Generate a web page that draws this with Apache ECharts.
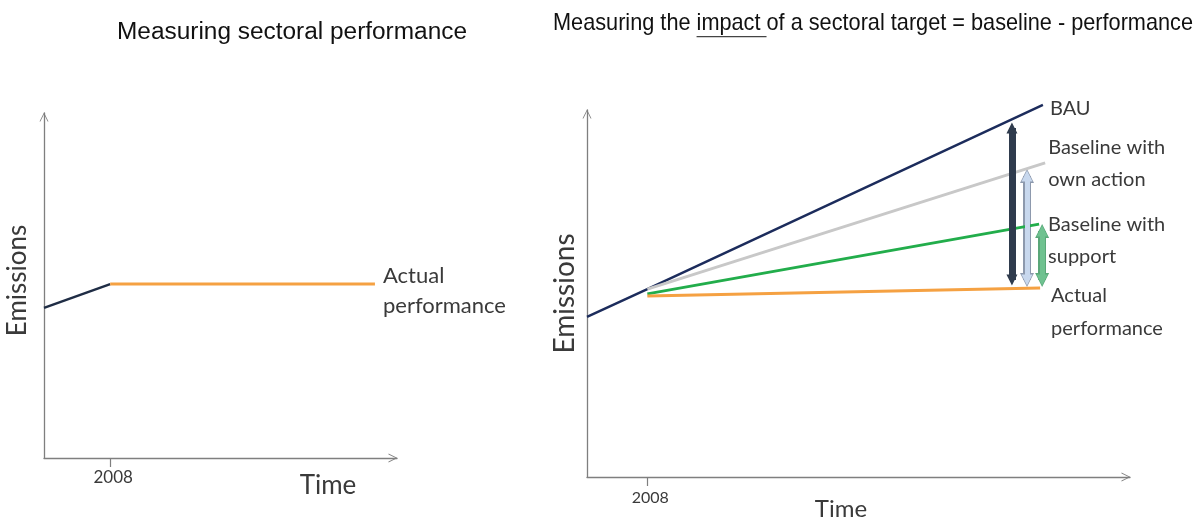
<!DOCTYPE html>
<html>
<head>
<meta charset="utf-8">
<title>Measuring sectoral performance</title>
<script src="https://cdn.jsdelivr.net/npm/echarts@6.0.0/dist/echarts.min.js"></script>
<style>
  html, body { margin:0; padding:0; background:#fff; }
  #main { width:1198px; height:518px; }
</style>
</head>
<body>
<div id="main"></div>
<script type="text/javascript">
// values (x = year, y = emissions index 0..10)
var tickYear = 2008;
var tickLabels = ['2008'];

// left: measuring sectoral performance
var leftPast   = [[2005, 4.35], [2008, 5.04]];
var leftActual = [[2008, 5.04], [2020, 5.04]];

// right: impact of a sectoral target
var bau         = [[2005, 4.36], [2008, 5.12], [2027.67, 10.14]];
var ownAction   = [[2008, 5.12], [2027.78, 8.56]];
var withSupport = [[2008, 4.99], [2027.48, 6.89]];
var actual      = [[2008, 4.93], [2027.53, 5.15]];

// impact arrows (top, bottom)
var arrowBau     = [[2026.13, 9.51], [2026.13, 5.37]];
var arrowOwn     = [[2026.88, 8.20], [2026.88, 5.37]];
var arrowSupport = [[2027.63, 6.70], [2027.63, 5.37]];

var chevron = 'path://M0,10 L5,0 L10,10 L9,10 L5,2 L1,10 Z';
var axisGray = '#7f7f7f';
var textCol = '#3a3a3a';

function xAxisOf(gi, max, fs, margin) {
  return {
    type: 'value', gridIndex: gi, min: 2005, max: max,
    axisLine: { lineStyle: { color: axisGray, width: 1.3 }, symbol: ['none', chevron], symbolSize: [10, 9], symbolOffset: [0, -4] },
    axisTick: { show: true, customValues: [tickYear], length: 9, lineStyle: { color: axisGray, width: 1.2 } },
    axisLabel: { customValues: [tickYear], formatter: function () { return tickLabels[0]; },
      fontFamily: 'Lato', fontSize: fs, color: textCol, margin: margin, padding: [0, 0, 0, 6] },
    splitLine: { show: false }
  };
}
function yAxisOf(gi, gap, fs, shift) {
  return {
    type: 'value', gridIndex: gi, min: 0, max: 10,
    name: 'Emissions', nameLocation: 'middle', nameGap: gap, nameRotate: 90,
    nameTextStyle: { fontFamily: 'Lato', fontSize: fs, color: textCol, padding: [0, 0, 0, shift] },
    axisLine: { show: true, lineStyle: { color: axisGray, width: 1.3 }, symbol: ['none', chevron], symbolSize: [10, 9], symbolOffset: [0, -4] },
    axisTick: { show: false }, axisLabel: { show: false }, splitLine: { show: false }
  };
}
// end label; dy pushes the text block down via a spacer line, dx moves it right
function endLab(text, dx, dy, fs, lh) {
  var parts = text.split('\n').map(function (l) { return '{t|' + l + '}'; });
  return { show: true, distance: 0, padding: [0, 0, 0, dx],
    formatter: (dy > 0 ? '{sp| }\n' : '') + parts.join('\n'),
    rich: {
      sp: { fontSize: 1, height: 2 * dy, lineHeight: 2 * dy },
      t: { fontFamily: 'Lato', fontSize: fs, lineHeight: lh, color: textCol }
    } };
}
function lineOf(gi, data, color, width, label) {
  return {
    type: 'line', xAxisIndex: gi, yAxisIndex: gi, data: data, symbol: 'none',
    lineStyle: { color: color, width: width }, itemStyle: { color: color },
    clip: false, silent: true, animation: false, endLabel: label
  };
}

var measure = document.createElement('canvas').getContext('2d');
var titleL = 'Measuring sectoral performance';
var titleR = 'Measuring the impact of a sectoral target = baseline - performance';
measure.font = '23px "Liberation Sans"';
var sL = 350 / measure.measureText(titleL).width;
measure.font = '24px "Liberation Sans"';
var wR = measure.measureText(titleR).width;
var sR = 640 / wR;
var uPre = measure.measureText('Measuring the ').width * sR;
var uLen = measure.measureText('impact ').width * sR;

var myChart = echarts.init(document.getElementById('main'));
var option = {
  backgroundColor: '#fff',
  animation: false,
  grid: [
    { left: 44, top: 113, width: 353, height: 345 },
    { left: 587, top: 110, width: 543, height: 367 }
  ],
  xAxis: [xAxisOf(0, 2021, 17, 11), xAxisOf(1, 2032, 16, 13)],
  yAxis: [yAxisOf(0, 13, 26, 10), yAxisOf(1, 8, 28, 0)],
  graphic: [
    { type: 'text', x: 292, y: 33, scaleX: sL, silent: true,
      style: { text: titleL, font: '23px "Liberation Sans"', fill: '#111', align: 'center', verticalAlign: 'middle' } },
    { type: 'text', x: 873, y: 23, scaleX: sR, silent: true,
      style: { text: titleR, font: '24px "Liberation Sans"', fill: '#111', align: 'center', verticalAlign: 'middle' } },
    { type: 'rect', silent: true, shape: { x: 873 - 320 + uPre, y: 36, width: uLen, height: 1.3 }, style: { fill: '#444' } },
    { type: 'text', x: 328, y: 486, silent: true,
      style: { text: 'Time', font: '26px Lato', fill: textCol, align: 'center', verticalAlign: 'middle' } },
    { type: 'text', x: 841, y: 509, silent: true,
      style: { text: 'Time', font: '24px Lato', fill: textCol, align: 'center', verticalAlign: 'middle' } }
  ],
  series: [
    lineOf(0, leftPast, '#1f2d45', 2.5),
    lineOf(0, leftActual, '#f5a142', 3, endLab('Actual\nperformance', 8, 7, 22, 30)),

    lineOf(1, bau, '#1c2c5c', 2.5, endLab('BAU', 7, 4, 20, 32)),
    lineOf(1, ownAction, '#c8c8c8', 3, endLab('Baseline with\nown action', 3, 1, 20, 32)),
    lineOf(1, withSupport, '#22ad4b', 3, endLab('Baseline with\nsupport', 9, 16, 20, 32)),
    lineOf(1, actual, '#f5a142', 3, endLab('Actual\nperformance', 11, 24, 20, 33)),

    { type: 'lines', coordinateSystem: 'cartesian2d', xAxisIndex: 1, yAxisIndex: 1, silent: true,
      symbol: ['triangle', 'triangle'], symbolSize: 14, z: 3,
      data: [
        { coords: arrowOwn, lineStyle: { color: '#8d99ad', width: 8, opacity: 1 } },
        { coords: arrowSupport, lineStyle: { color: '#5aa779', width: 8, opacity: 1 } }
      ] },
    { type: 'lines', coordinateSystem: 'cartesian2d', xAxisIndex: 1, yAxisIndex: 1, silent: true,
      symbol: ['triangle', 'triangle'], symbolSize: 11, z: 4,
      data: [
        { coords: arrowBau, lineStyle: { color: '#2f3b4d', width: 7, opacity: 1 } },
        { coords: arrowOwn, lineStyle: { color: '#c8d8ee', width: 5, opacity: 1 } },
        { coords: arrowSupport, lineStyle: { color: '#6fc290', width: 5, opacity: 1 } }
      ] }
  ]
};
myChart.setOption(option);
</script>
</body>
</html>
